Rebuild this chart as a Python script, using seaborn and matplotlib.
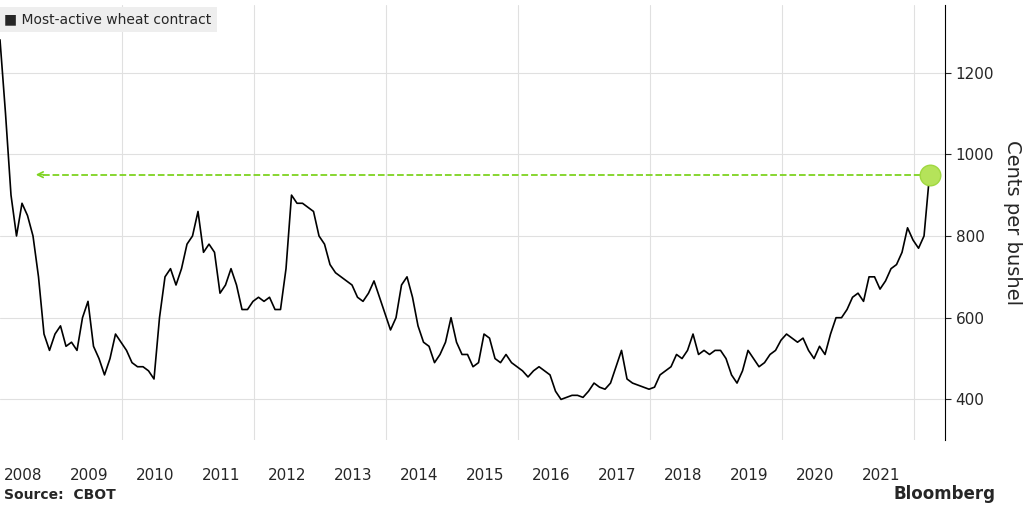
import numpy as np
import pandas as pd
import matplotlib.pyplot as plt
import seaborn as sns

# monthly prices (cents per bushel), Feb 2008 - Mar 2022
p2008 = [1280, 1100, 900, 800, 880, 850, 800, 700, 560, 520, 560]
p2009 = [580, 530, 540, 520, 600, 640, 530, 500, 460, 500, 560, 540]
p2010 = [520, 490, 480, 480, 470, 450, 600, 700, 720, 680, 720, 780]
p2011 = [800, 860, 760, 780, 760, 660, 680, 720, 680, 620, 620, 640]
p2012 = [650, 640, 650, 620, 620, 720, 900, 880, 880, 870, 860, 800]
p2013 = [780, 730, 710, 700, 690, 680, 650, 640, 660, 690, 650, 610]
p2014 = [570, 600, 680, 700, 650, 580, 540, 530, 490, 510, 540, 600]
p2015 = [540, 510, 510, 480, 490, 560, 550, 500, 490, 510, 490, 480]
p2016 = [470, 455, 470, 480, 470, 460, 420, 400, 405, 410, 410, 405]
p2017 = [420, 440, 430, 425, 440, 480, 520, 450, 440, 435, 430, 425]
p2018 = [430, 460, 470, 480, 510, 500, 520, 560, 510, 520, 510, 520]
p2019 = [520, 500, 460, 440, 470, 520, 500, 480, 490, 510, 520, 545]
p2020 = [560, 550, 540, 550, 520, 500, 530, 510, 560, 600, 600, 620]
p2021 = [650, 660, 640, 700, 700, 670, 690, 720, 730, 760, 820, 790]
p2022 = [770, 800, 950]

prices = p2008 + p2009 + p2010 + p2011 + p2012 + p2013 + p2014 + p2015 + \
    p2016 + p2017 + p2018 + p2019 + p2020 + p2021 + p2022
dates = 2008.15 + np.arange(len(prices)) / 12
df = pd.DataFrame({"t": dates, "price": prices})
last_price = 950
years = list(range(2008, 2022))

sns.set_style("white")
fig = plt.figure(figsize=(10.24, 5.09), dpi=100)
ax = fig.add_axes([0, 0.135, 0.923, 0.855])

sns.lineplot(x="t", y="price", data=df, color="black", lw=1.2, ax=ax)
ax.plot([2008.8, df.t.iloc[-1]], [last_price, last_price], color="#7ed321",
        ls="--", lw=1.3)
ax.annotate("", xy=(2008.65, last_price), xytext=(2008.85, last_price),
            arrowprops=dict(arrowstyle="->", color="#7ed321", lw=1.2))
ax.scatter([df.t.iloc[-1]], [last_price], s=220, color="#b5e35a", zorder=5,
           edgecolor="#a0d840")

ax.set_xlim(2008.15, 2022.47)
ax.set_ylim(300, 1365)
ax.set_xticks([2010, 2012, 2014, 2016, 2018, 2020, 2022])
ax.set_xticklabels([])
ax.set_xticks([y + 0.5 for y in years], minor=True)
ax.set_xticklabels([str(y) for y in years], minor=True, fontsize=11)
ax.tick_params(axis="x", which="both", length=0, pad=20)
ax.yaxis.tick_right()
ax.yaxis.set_label_position("right")
ax.set_yticks([400, 600, 800, 1000, 1200])
ax.tick_params(axis="y", length=4, labelsize=11, direction="out", right=True)
ax.set_ylabel("Cents per bushel", fontsize=14, rotation=270, labelpad=20)
ax.grid(True, which="major", color="#e0e0e0", lw=0.8)
for s in ["top", "left", "bottom"]:
    ax.spines[s].set_visible(False)
ax.spines["right"].set_color("black")
ax.set_xlabel("")

fig.text(0.004, 0.962, "\u25a0 Most-active wheat contract", fontsize=10,
         va="center", bbox=dict(facecolor="#eeeeee", edgecolor="none", pad=4))
fig.text(0.004, 0.02, "Source:  CBOT", fontsize=10, fontweight="bold")
fig.text(0.972, 0.02, "Bloomberg", fontsize=12, fontweight="bold", ha="right")

fig.savefig("out.png", dpi=100)
